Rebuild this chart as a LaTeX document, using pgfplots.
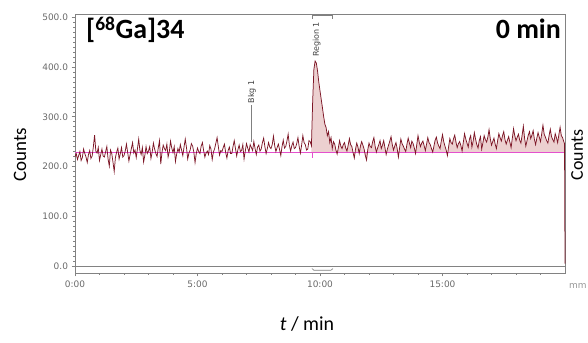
\documentclass[border=0pt]{standalone}
\usepackage{pgfplots}
\pgfplotsset{compat=1.18}
\usepackage{pgfplotstable}
\usepackage{fontspec}
\setmainfont{Carlito}
\newfontfamily\tickfont{DejaVu Sans}
\definecolor{trace}{RGB}{125,22,38}
\definecolor{basemag}{RGB}{228,80,205}
\definecolor{regfill}{RGB}{236,208,208}
\definecolor{axgray}{RGB}{130,130,130}
\definecolor{labgray}{RGB}{105,105,105}

\pgfplotstableread{
t c
0.00 220
0.05 226
0.10 214
0.15 222
0.20 230
0.25 212
0.30 218
0.35 235
0.40 226
0.45 219
0.50 208
0.55 224
0.60 232
0.65 216
0.70 221
0.75 240
0.80 263
0.85 231
0.90 227
0.95 238
1.00 212
1.05 224
1.10 235
1.15 221
1.20 219
1.25 230
1.30 240
1.35 215
1.40 201
1.45 233
1.50 226
1.55 209
1.60 190
1.65 218
1.70 229
1.75 237
1.80 215
1.85 226
1.90 238
1.95 219
2.00 222
2.05 231
2.10 245
2.15 228
2.20 211
2.25 224
2.30 236
2.35 248
2.40 227
2.45 233
2.50 218
2.55 236
2.60 255
2.65 232
2.70 224
2.75 238
2.80 209
2.85 222
2.90 240
2.95 226
3.00 231
3.05 240
3.10 216
3.15 229
3.20 247
3.25 235
3.30 226
3.35 220
3.40 238
3.45 252
3.50 205
3.55 228
3.60 243
3.65 236
3.70 232
3.75 245
3.80 219
3.85 230
3.90 251
3.95 237
4.00 228
4.05 240
4.10 210
4.15 225
4.20 236
4.25 229
4.30 244
4.35 233
4.40 222
4.45 239
4.50 255
4.55 238
4.60 215
4.65 227
4.70 233
4.75 246
4.80 241
4.85 229
4.90 208
4.95 226
5.00 237
5.05 230
5.10 226
5.15 241
5.20 248
5.25 232
5.30 219
5.35 227
5.40 231
5.45 224
5.50 242
5.55 235
5.60 214
5.65 229
5.70 236
5.75 247
5.80 258
5.85 240
5.90 223
5.95 232
6.00 230
6.05 238
6.10 245
6.15 228
6.20 217
6.25 232
6.30 239
6.35 226
6.40 226
6.45 240
6.50 252
6.55 236
6.60 221
6.65 234
6.70 243
6.75 230
6.80 232
6.85 244
6.90 215
6.95 231
7.00 246
7.05 237
7.10 229
7.15 244
7.20 238
7.25 232
7.30 250
7.35 236
7.40 224
7.45 239
7.50 243
7.55 231
7.60 235
7.65 248
7.70 257
7.75 240
7.80 226
7.85 236
7.90 248
7.95 239
8.00 236
8.05 244
8.10 261
8.15 242
8.20 230
8.25 238
8.30 245
8.35 234
8.40 222
8.45 240
8.50 253
8.55 237
8.60 240
8.65 251
8.70 265
8.75 243
8.80 231
8.85 242
8.90 249
8.95 236
9.00 238
9.05 246
9.10 258
9.15 240
9.20 227
9.25 243
9.30 262
9.35 248
9.40 244
9.45 233
9.50 235
9.55 252
9.60 250
9.65 242
9.70 330
9.75 395
9.80 412
9.85 408
9.90 392
9.95 370
10.00 352
10.05 335
10.10 318
10.15 300
10.20 285
10.25 278
10.30 262
10.35 270
10.40 248
10.45 258
10.50 236
10.55 250
10.60 245
10.65 233
10.70 225
10.75 238
10.80 252
10.85 241
10.90 236
10.95 244
11.00 248
11.05 237
11.10 231
11.15 243
11.20 256
11.25 244
11.30 240
11.35 228
11.40 217
11.45 235
11.50 247
11.55 239
11.60 226
11.65 241
11.70 250
11.75 243
11.80 235
11.85 222
11.90 213
11.95 234
12.00 247
12.05 240
12.10 238
12.15 250
12.20 258
12.25 241
12.30 229
12.35 237
12.40 244
12.45 252
12.50 236
12.55 243
12.60 252
12.65 238
12.70 224
12.75 235
12.80 243
12.85 251
12.90 260
12.95 244
13.00 233
13.05 241
13.10 248
13.15 236
13.20 219
13.25 238
13.30 255
13.35 246
13.40 241
13.45 235
13.50 230
13.55 245
13.60 257
13.65 247
13.70 238
13.75 251
13.80 246
13.85 237
13.90 226
13.95 244
14.00 262
14.05 249
14.10 240
14.15 247
14.20 251
14.25 242
14.30 232
14.35 245
14.40 258
14.45 248
14.50 244
14.55 236
14.60 229
14.65 241
14.70 253
14.75 259
14.80 247
14.85 241
14.90 236
14.95 251
15.00 264
15.05 250
15.10 241
15.15 233
15.20 222
15.25 240
15.30 256
15.35 248
15.40 245
15.45 256
15.50 263
15.55 249
15.60 238
15.65 246
15.70 250
15.75 242
15.80 231
15.85 249
15.90 266
15.95 255
16.00 247
16.05 239
16.10 255
16.15 262
16.20 239
16.25 251
16.30 268
16.35 255
16.40 244
16.45 237
16.50 252
16.55 260
16.60 235
16.65 248
16.70 262
16.75 254
16.80 249
16.85 259
16.90 274
16.95 256
17.00 243
17.05 250
17.10 257
17.15 245
17.20 236
17.25 252
17.30 266
17.35 258
17.40 251
17.45 262
17.50 270
17.55 254
17.60 245
17.65 253
17.70 260
17.75 249
17.80 238
17.85 257
17.90 276
17.95 262
18.00 252
18.05 259
18.10 265
18.15 253
18.20 247
18.25 263
18.30 281
18.35 257
18.40 241
18.45 252
18.50 263
18.55 270
18.60 256
18.65 263
18.70 272
18.75 255
18.80 244
18.85 257
18.90 268
18.95 259
19.00 250
19.05 266
19.10 283
19.15 265
19.20 259
19.25 252
19.30 247
19.35 262
19.40 275
19.45 260
19.50 254
19.55 249
19.60 266
19.65 258
19.70 248
19.75 264
19.80 279
19.85 262
19.90 258
19.95 250
19.98 246
20.00 5
}\tracedata

\begin{document}
\begin{tikzpicture}
\useasboundingbox (0,0) rectangle (588bp,343bp);
\begin{axis}[
  at={(75bp,70bp)}, anchor=south west,
  scale only axis, width=490bp, height=259bp,
  xmin=0, xmax=20, ymin=-14.06, ymax=506.5,
  axis line style={axgray, line width=0.6bp},
  xtick={0,5,10,15}, xticklabels={0:00,5:00,10:00,15:00},
  minor xtick={1,2,3,4,6,7,8,9,11,12,13,14,16,17,18,19},
  ytick={0,100,200,300,400,500},
  minor y tick num=9,
  tick align=outside,
  tick style={axgray, line width=0.5bp},
  major tick length=3.5bp, minor tick length=2bp,
  xtick pos=bottom, ytick pos=left,
  ticklabel style={font=\tickfont\fontsize{9}{10}\selectfont, text=labgray},
  xticklabel style={yshift=-1bp},
  yticklabel style={/pgf/number format/.cd, fixed, fixed zerofill, precision=1, /tikz/.cd},
  /pgf/number format/assume math mode=true,
  clip=false,
]
% y = 0 line
\draw[axgray, line width=0.6bp] (axis cs:0,0) -- (axis cs:20,0);
% region fill (closed against the baseline)
\addplot[fill=regfill, draw=none, forget plot, restrict x to domain=9.64:19.99]
  table[x=t, y=c] {\tracedata} -- (axis cs:19.98,229) -- (axis cs:9.65,229) -- cycle;
% baseline
\addplot[draw=basemag, line width=1bp, forget plot] coordinates {(0,229) (20,229)};
% trace
\addplot[trace, line width=0.75bp, mark=none, forget plot] table[x=t, y=c] {\tracedata};
% region start tick
\draw[basemag, line width=0.8bp] (axis cs:9.67,229) -- (axis cs:9.67,217);
% Bkg 1 marker
\draw[gray, line width=0.8bp] (axis cs:7.22,249) -- (axis cs:7.22,324);
\node[rotate=90, anchor=west, inner sep=1bp, font=\tickfont\fontsize{8}{9}\selectfont, text=black!75]
  at (axis cs:7.22,325) {Bkg 1};
% Region 1 marker
\node[rotate=90, anchor=west, inner sep=1bp, font=\tickfont\fontsize{8}{9}\selectfont, text=black!75]
  at (axis cs:9.86,418) {Region 1};
\draw[gray, line width=0.6bp] (axis cs:9.67,497) -- (axis cs:9.67,504) -- (axis cs:10.5,504) -- (axis cs:10.5,497);
\draw[gray, line width=0.6bp] (axis cs:9.67,-5) -- (axis cs:9.75,-8.5) -- (axis cs:10.45,-8.5) -- (axis cs:10.53,-5);
\end{axis}
% titles
\node[anchor=base west, inner sep=0pt, font=\bfseries\fontsize{28}{30}\selectfont] at (86bp,304bp) {[\textsuperscript{68}Ga]34};
\node[anchor=base east, inner sep=0pt, font=\bfseries\fontsize{28}{30}\selectfont] at (561bp,304bp) {0 min};
% axis labels
\node[rotate=90, inner sep=0pt, font=\fontsize{19}{21}\selectfont] at (20bp,188bp) {Counts};
\node[rotate=90, anchor=north, inner sep=0pt, font=\fontsize{18}{20}\selectfont] at (571bp,188bp) {Counts};
\node[inner sep=0pt, font=\fontsize{20}{22}\selectfont] at (307bp,19bp) {\textit{t} / min};
\node[anchor=west, inner sep=0pt, font=\tickfont\fontsize{9}{10}\selectfont, text=labgray!70] at (569bp,57bp) {mm};
\end{tikzpicture}
\end{document}
